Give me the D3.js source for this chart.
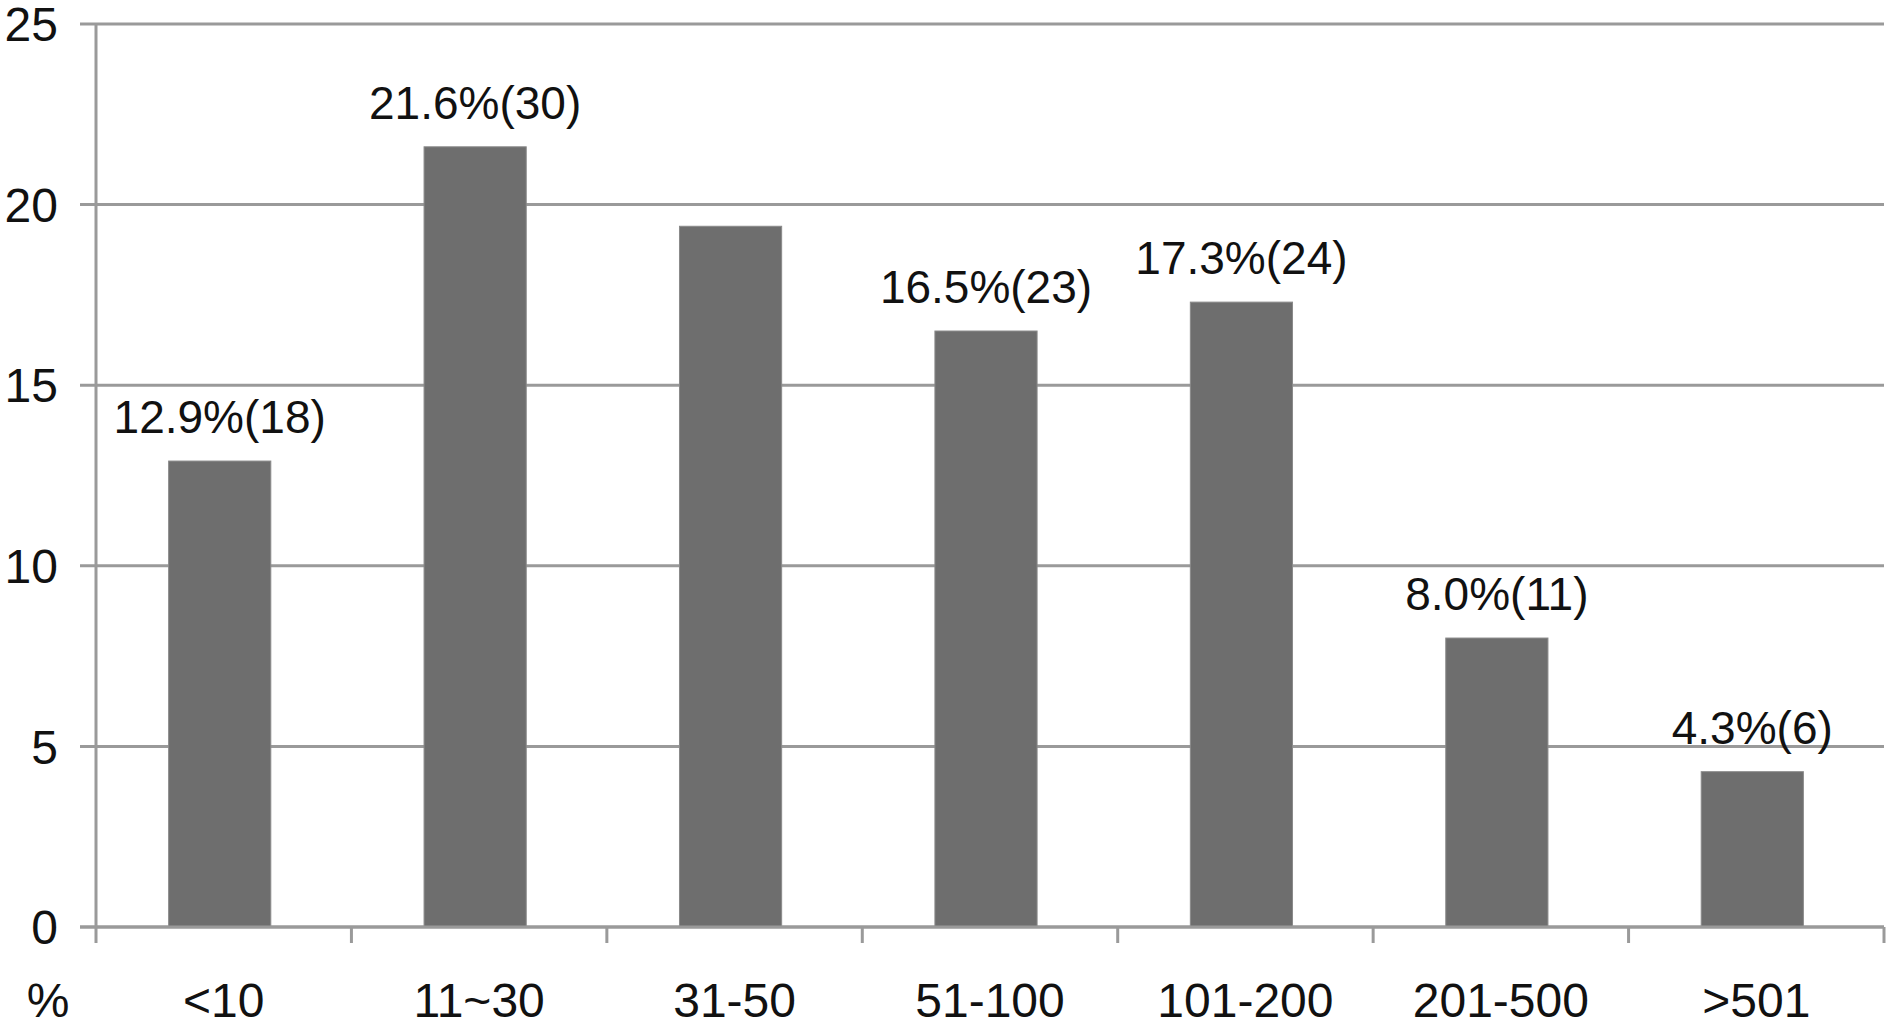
<html>
<head>
<script src="https://cdnjs.cloudflare.com/ajax/libs/d3/7.8.5/d3.min.js"></script>
<style>
  body { margin: 0; background: #fff; }
  text { font-family: "Liberation Sans", Arial, sans-serif; fill: #111; }
</style>
</head>
<body>
<div id="container"></div>
<script>
// data
var categories = ["<10", "11~30", "31-50", "51-100", "101-200", "201-500", ">501"];
var percents = [12.9, 21.6, 19.4, 16.5, 17.3, 8.0, 4.3];
var labels = ["12.9%(18)", "21.6%(30)", "", "16.5%(23)", "17.3%(24)", "8.0%(11)", "4.3%(6)"];
var yTicks = [0, 5, 10, 15, 20, 25];

var w = 1890, h = 1028;
var plotLeft = 96, plotRight = 1884, plotTop = 24, plotBottom = 927;

var svg = d3.select("#container").append("svg")
    .attr("width", w)
    .attr("height", h);

var x = d3.scaleBand()
    .domain(categories)
    .range([plotLeft, plotRight])
    .paddingInner(0.6)
    .paddingOuter(0.3);

var y = d3.scaleLinear()
    .domain([0, 25])
    .range([plotBottom, plotTop]);

// gridlines
svg.selectAll("line.grid")
    .data(yTicks)
    .enter()
    .append("line")
    .attr("x1", plotLeft - 16)
    .attr("x2", plotRight)
    .attr("y1", function(d) { return y(d); })
    .attr("y2", function(d) { return y(d); })
    .attr("stroke", "#9a9a9a")
    .attr("stroke-width", 3);

// y labels
svg.selectAll("text.ytick")
    .data(yTicks)
    .enter()
    .append("text")
    .attr("x", 58)
    .attr("y", function(d) { return y(d); })
    .attr("dy", "0.36em")
    .attr("text-anchor", "end")
    .style("font-size", "48px")
    .text(function(d) { return d; });

// bars
svg.selectAll("rect.bar")
    .data(percents)
    .enter()
    .append("rect")
    .attr("x", function(d, i) { return x(categories[i]) - 4; })
    .attr("y", function(d) { return y(d); })
    .attr("width", x.bandwidth())
    .attr("height", function(d) { return y(0) - y(d); })
    .attr("fill", "#6e6e6e")
    .attr("stroke", "#8a8a8a")
    .attr("stroke-width", 1);

// vertical axis
svg.append("line")
    .attr("x1", plotLeft).attr("x2", plotLeft)
    .attr("y1", plotTop).attr("y2", plotBottom + 16)
    .attr("stroke", "#9a9a9a")
    .attr("stroke-width", 3);

// x axis line + ticks
svg.append("line")
    .attr("x1", plotLeft - 16).attr("x2", plotRight)
    .attr("y1", plotBottom).attr("y2", plotBottom)
    .attr("stroke", "#9a9a9a")
    .attr("stroke-width", 3);

svg.selectAll("line.xtick")
    .data(d3.range(1, categories.length + 1))
    .enter()
    .append("line")
    .attr("x1", function(d) { return plotLeft + d * (plotRight - plotLeft) / categories.length; })
    .attr("x2", function(d) { return plotLeft + d * (plotRight - plotLeft) / categories.length; })
    .attr("y1", plotBottom)
    .attr("y2", plotBottom + 16)
    .attr("stroke", "#9a9a9a")
    .attr("stroke-width", 3);

// x labels
svg.selectAll("text.xlab")
    .data(categories)
    .enter()
    .append("text")
    .attr("x", function(d) { return x(d) + x.bandwidth() / 2; })
    .attr("y", 1017)
    .attr("text-anchor", "middle")
    .style("font-size", "48px")
    .text(function(d) { return d; });

svg.append("text")
    .attr("x", 48)
    .attr("y", 1017)
    .attr("text-anchor", "middle")
    .style("font-size", "48px")
    .text("%");

// value labels
svg.selectAll("text.val")
    .data(percents)
    .enter()
    .append("text")
    .attr("x", function(d, i) { return x(categories[i]) + x.bandwidth() / 2 - 4; })
    .attr("y", function(d) { return y(d) - 28; })
    .attr("text-anchor", "middle")
    .style("font-size", "46px")
    .text(function(d, i) { return labels[i]; });
</script>
</body>
</html>
